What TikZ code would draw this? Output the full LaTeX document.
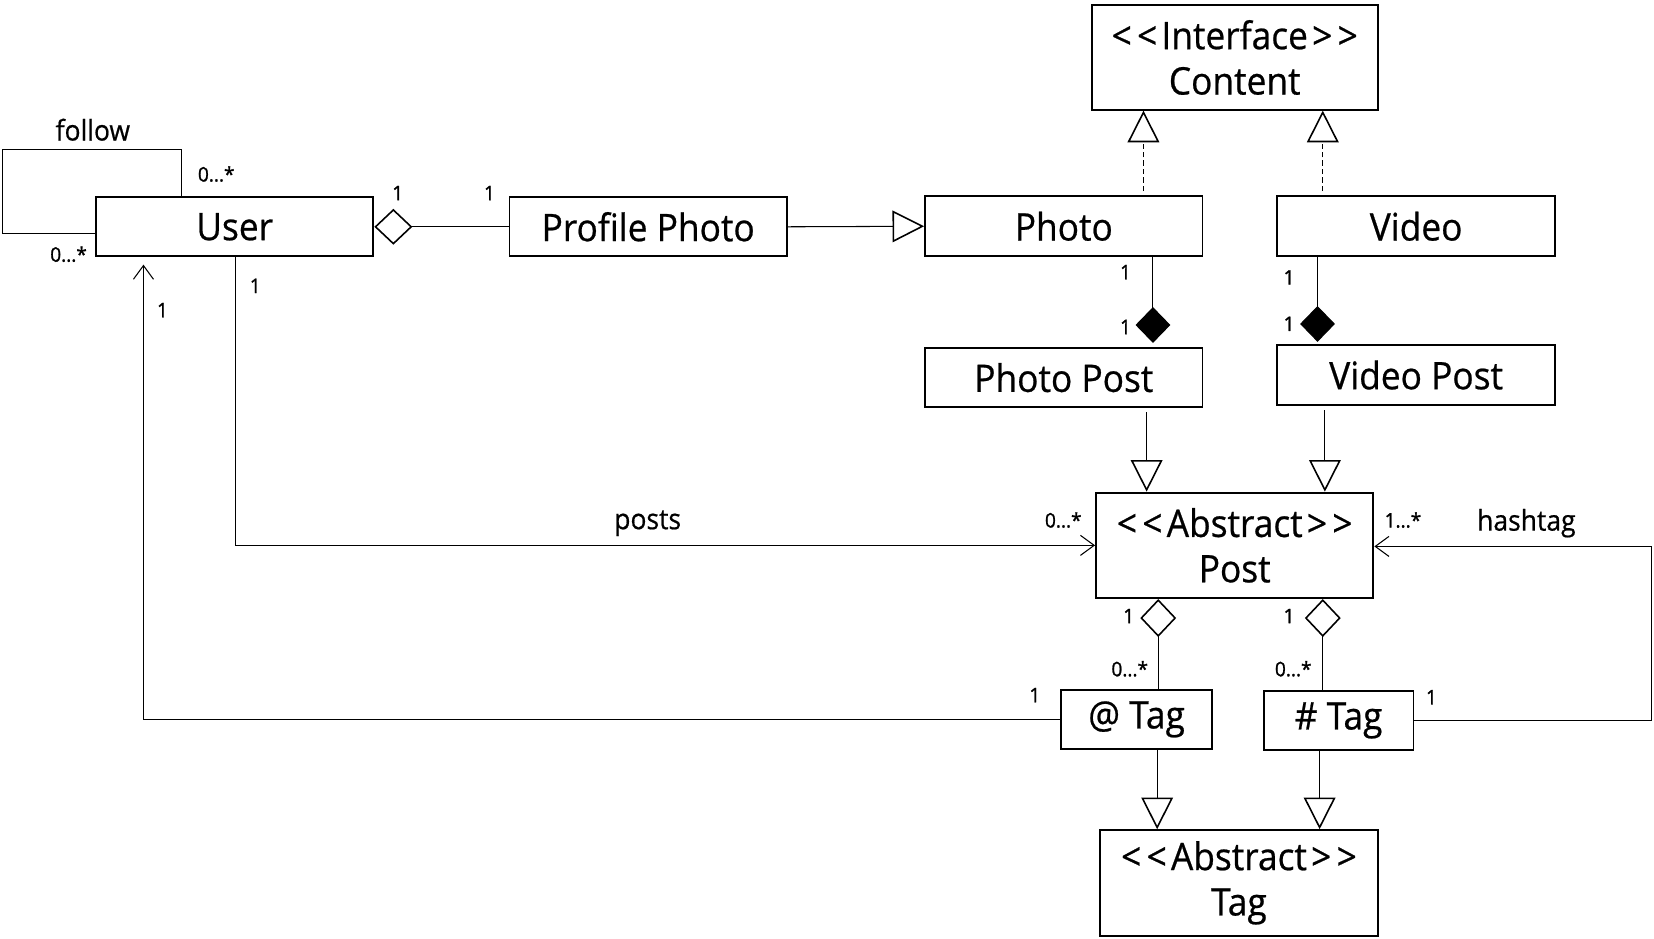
\documentclass[tikz,border=0pt]{standalone}
\usepackage{fontspec}
\setmainfont[FakeStretch=0.93, FakeBold=0.6]{Open Sans}
\newfontfamily\multfont[FakeStretch=0.95, FakeBold=1.2]{Open Sans}
\usetikzlibrary{arrows.meta}
\begin{document}
\begin{tikzpicture}[x=1pt,y=-1pt,
  cls/.style={draw, line width=1.8pt, inner sep=0pt, minimum width=263pt, minimum height=56pt,
    align=center, font=\fontsize{36}{43}\selectfont},
  conn/.style={line width=1pt},
  gen/.style={conn, -{Triangle[open, length=30pt, width=30pt, line width=1.5pt]}},
  agg/.style={conn, {Diamond[open, length=36pt, width=34pt, line width=1.5pt]}-},
  comp/.style={conn, -{Diamond[length=34pt, width=33pt]}},
  nav/.style={conn, -{Straight Barb[length=13pt, width=19pt, line width=1pt]}},
  real/.style={gen, dash pattern=on 5pt off 3pt},
  mult/.style={inner sep=0pt, font=\multfont\fontsize{19}{22}\selectfont},
  lbl/.style={inner sep=0pt, font=\fontsize{27}{32}\selectfont}
]
\useasboundingbox (0,0) rectangle (1568,890);
\newcommand{\stereo}[1]{\textless\kern5pt\textless\kern4pt#1\kern4pt\textgreater\kern5pt\textgreater}
% classes
\node[cls] (user) at (222.5,215) {User};
\node[cls] (pp) at (614.5,215) {Profile Photo};
\node[cls, minimum height=57pt] (photo) at (1008.5,214.5) {Photo};
\node[cls, minimum height=57pt] (video) at (1342.5,214.5) {Video};
\node[cls, minimum width=271pt, minimum height=99pt] (content) at (1170.5,54.5) {\stereo{Interface}\\Content};
\node[cls] (photopost) at (1008.5,358) {Photo Post};
\node[cls, minimum height=57pt] (videopost) at (1342.5,355.5) {Video Post};
\node[cls, minimum height=100pt] (post) at (1170.5,517) {\stereo{Abstract}\\Post};
\node[cls, minimum width=143pt] (atag) at (1077.5,682) {@ Tag};
\node[cls, minimum width=142pt] (htag) at (1269,683) {\# Tag};
\node[cls, minimum height=100pt] (abstag) at (1174.5,837) {\stereo{Abstract}\\Tag};
% follow self association
\draw[conn] ([xshift=-50.5pt]user.north) |- (2,142) |- ([yshift=-6pt]user.west);
% user - profile photo
\draw[agg] (user.east) -- (pp.west);
\draw[gen] (pp.east) -- (photo.west);
% realizations
\draw[real] ([xshift=75.5pt,yshift=4pt]photo.north) -- ([xshift=75.5pt]photo.north |- content.south);
\draw[real] ([xshift=-88.5pt,yshift=4pt]video.north) -- ([xshift=-88.5pt]video.north |- content.south);
% compositions
\draw[comp] ([xshift=84.5pt]photo.south) -- ([xshift=84.5pt,yshift=4pt]photo.south |- photopost.north);
\draw[comp] ([xshift=-93.5pt]video.south) -- ([xshift=-93.5pt,yshift=2pt]video.south |- videopost.north);
% post generalizations
\draw[gen] ([xshift=78.5pt,yshift=-4pt]photopost.south) -- ([xshift=78.5pt]photopost.south |- post.north);
\draw[gen] ([xshift=-86.5pt,yshift=-4pt]videopost.south) -- ([xshift=-86.5pt]videopost.south |- post.north);
% posts
\draw[nav] ([xshift=0.5pt]user.south) |- (post.west);
% hashtag
\draw[nav] (htag.east) -- (1566,683) |- ([yshift=-1pt]post.east);
% tag aggregations
\draw[agg] ([xshift=-72.5pt]post.south) -- ([xshift=-72.5pt]post.south |- atag.north);
\draw[agg] ([xshift=83.5pt]post.south) -- ([xshift=83.5pt]post.south |- htag.north);
% @tag -> user
\draw[nav, shorten >=7pt] (atag.west) -| ([xshift=-86.5pt]user.south);
% tag generalizations
\draw[gen] ([xshift=19.5pt]atag.south) -- ([xshift=19.5pt]atag.south |- abstag.north);
\draw[gen] ([xshift=-18pt]htag.south) -- ([xshift=-18pt]htag.south |- abstag.north);
% labels
\node[lbl] (lfollow) at (88,123) {follow};
\node[mult] (m1) at (205,165) {0...*};
\node[mult] (m2) at (65,241) {0...*};
\node[mult] (m3) at (377,183) {1};
\node[mult] (m4) at (464,183) {1};
\node[mult] (m5) at (1067,258) {1};
\node[mult] (m6) at (1067,310) {1};
\node[mult] (m7) at (1222,263) {1};
\node[mult] (m8) at (1222,307) {1};
\node[lbl] (lposts) at (614,496) {posts};
\node[mult] (m9) at (242,271) {1};
\node[mult] (m10) at (1008,493) {0...*};
\node[mult] (m11) at (1330,493) {1...*};
\node[lbl] (lhash) at (1447,496) {hashtag};
\node[mult] (m12) at (1357,661) {1};
\node[mult] (m13) at (1070,584) {1};
\node[mult] (m14) at (1071,634) {0...*};
\node[mult] (m15) at (1222,584) {1};
\node[mult] (m16) at (1226,634) {0...*};
\node[mult] (m17) at (981,659) {1};
\node[mult] (m18) at (154,294) {1};
\end{tikzpicture}
\end{document}
